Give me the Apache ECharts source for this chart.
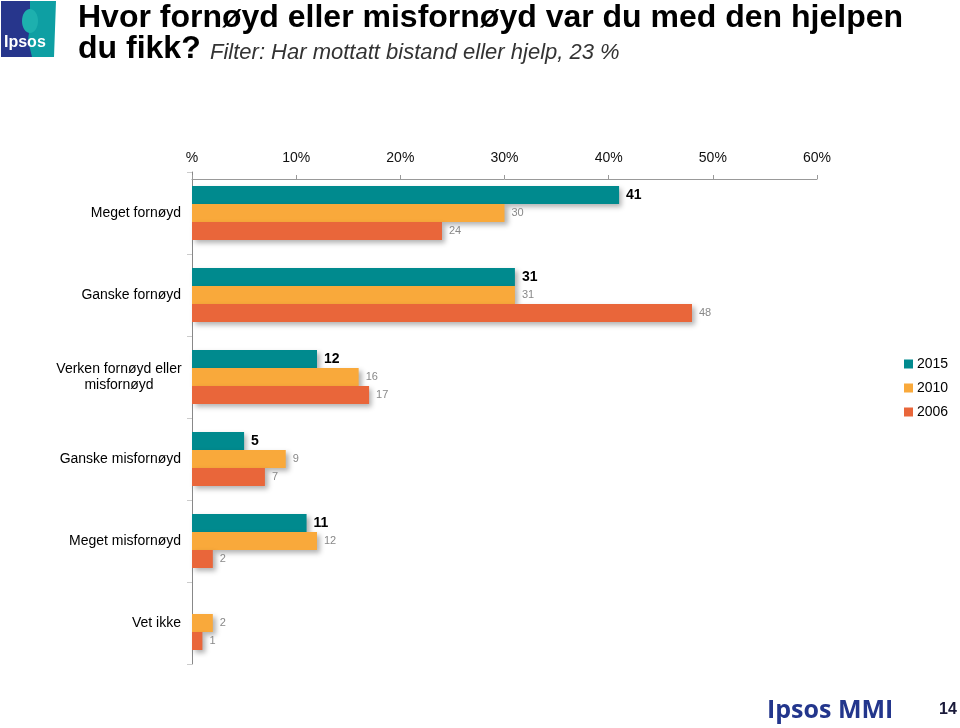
<!DOCTYPE html>
<html>
<head>
<meta charset="utf-8">
<script src="https://cdn.jsdelivr.net/npm/echarts@6/dist/echarts.min.js"></script>
<style>
html,body{margin:0;padding:0;background:#fff;}
#c{width:960px;height:728px;}
</style>
</head>
<body>
<div id="c"></div>
<script>
const categories = ['Meget fornøyd', 'Ganske fornøyd', 'Verken fornøyd eller misfornøyd', 'Ganske misfornøyd', 'Meget misfornøyd', 'Vet ikke'];
const seriesNames = ['2015', '2010', '2006'];
const values2015 = [41, 31, 12, 5, 11, null];
const values2010 = [30, 31, 16, 9, 12, 2];
const values2006 = [24, 48, 17, 7, 2, 1];
const xTicks = [0, 10, 20, 30, 40, 50, 60];

const colors = ['#008A8E', '#F9A93B', '#E9663A'];
const chart = echarts.init(document.getElementById('c'), null, {renderer: 'canvas'});

const shadow = {shadowColor: 'rgba(0,0,0,0.3)', shadowBlur: 5, shadowOffsetX: 3, shadowOffsetY: 3};
function mk(name, data, idx, bold) {
  return {
    name: name, type: 'bar', data: data, barWidth: 18, barGap: '0%',
    itemStyle: Object.assign({color: colors[idx]}, shadow),
    label: {
      show: true, position: 'right', distance: 7,
      color: bold ? '#000' : '#888',
      fontSize: bold ? 14 : 11, fontWeight: bold ? 'bold' : 'normal',
      fontFamily: 'Liberation Sans, Arial, sans-serif'
    }
  };
}

chart.setOption({
  animation: false,
  textStyle: {fontFamily: 'Liberation Sans, Arial, sans-serif'},
  grid: {left: 192, right: 143, top: 172, bottom: 64, containLabel: false},
  legend: {
    orient: 'vertical', left: 899, top: 352, itemWidth: 9, itemHeight: 9, itemGap: 10,
    icon: 'rect', data: seriesNames,
    textStyle: {fontSize: 14, color: '#000', padding: [0, 0, 0, -1]}
  },
  xAxis: {
    type: 'value', position: 'top', min: 0, max: 60, interval: 10, offset: -7,
    axisLine: {show: true, lineStyle: {color: '#999'}},
    axisTick: {show: true, length: 4, lineStyle: {color: '#999'}},
    splitLine: {show: false},
    axisLabel: {fontSize: 14, color: '#111', margin: 14,
      formatter: function (v) { return xTicks.indexOf(v) === 0 ? '%' : v + '%'; }}
  },
  yAxis: {
    type: 'category', data: categories, inverse: true,
    axisLine: {show: true, lineStyle: {color: '#888'}},
    axisTick: {show: true, length: 5, lineStyle: {color: '#ccc'}},
    axisLabel: {
      fontSize: 14, color: '#000', margin: 11, lineHeight: 16,
      formatter: function (v) {
        if (v === 'Verken fornøyd eller misfornøyd') return '{c|Verken fornøyd eller}\n{c|misfornøyd}';
        return v;
      },
      rich: {c: {width: 124, align: 'center', fontSize: 14, lineHeight: 16, color: '#000'}}
    }
  },
  series: [mk('2015', values2015, 0, true), mk('2010', values2010, 1, false), mk('2006', values2006, 2, false)],
  graphic: [
    {type: 'rect', shape: {x: 1, y: 1, width: 33, height: 56}, style: {fill: '#27368C'}},
    {type: 'polygon', shape: {points: [[30, 1], [56, 1], [54, 57], [32, 57], [28, 40], [30, 25]]}, style: {fill: '#0E9FA3'}},
    {type: 'ellipse', shape: {cx: 30, cy: 21, rx: 8, ry: 12}, style: {fill: '#1DB0AE'}},
    {type: 'text', left: 4, top: 35, style: {text: 'Ipsos', fill: '#fff', font: 'bold 16px Liberation Sans, Arial, sans-serif'}},
    {type: 'text', left: 78, top: 2, style: {text: 'Hvor fornøyd eller misfornøyd var du med den hjelpen', fill: '#000', font: 'bold 32px Liberation Sans, Arial, sans-serif'}},
    {type: 'text', left: 78, top: 33, style: {text: 'du fikk?', fill: '#000', font: 'bold 32px Liberation Sans, Arial, sans-serif'}},
    {type: 'text', left: 210, top: 42, style: {text: 'Filter: Har mottatt bistand eller hjelp, 23 %', fill: '#333', font: 'italic 22px Liberation Sans Narrow, Arial Narrow, Liberation Sans, sans-serif'}},
    {type: 'text', left: 767, top: 698, style: {text: 'Ipsos MMI', fill: '#23368C', font: 'bold 25px Open Sans, Liberation Sans, sans-serif'}},
    {type: 'text', left: 939, top: 702, style: {text: '14', fill: '#1a1a3a', font: 'bold 16px Liberation Sans, Arial, sans-serif'}}
  ]
});
</script>
</body>
</html>
